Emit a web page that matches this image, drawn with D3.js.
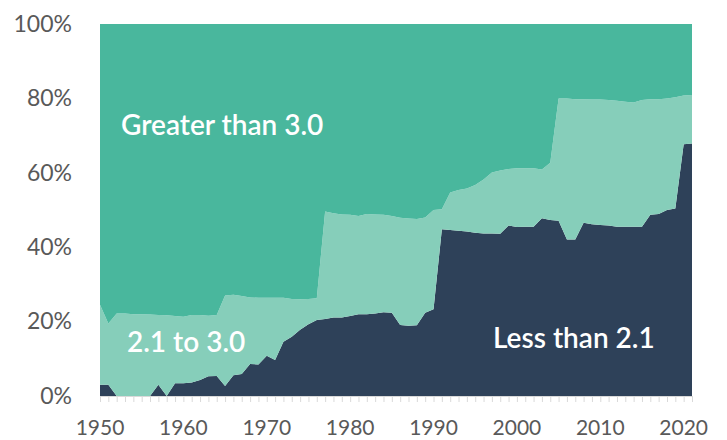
<!DOCTYPE html>
<html><head><meta charset="utf-8">
<script src="https://cdn.jsdelivr.net/npm/d3@7"></script>
<style>html,body{margin:0;padding:0;background:#fff;}svg{display:block;}</style>
</head><body>
<svg id="chart" width="727" height="440"></svg>
<script>
const years = d3.range(1950, 2022);
const lessThan21 = [3,3,0,0,0,0,0,3,0,3.4,3.4,3.6,4.3,5.3,5.4,2.7,5.6,5.9,8.6,8.5,10.8,9.7,14.6,15.9,17.8,19.3,20.4,20.7,21.1,21.1,21.5,22.0,22.0,22.2,22.5,22.4,19.1,18.9,19.0,22.4,23.3,44.8,44.6,44.4,44.2,43.9,43.7,43.7,43.6,45.8,45.4,45.5,45.5,47.8,47.3,47.1,42.1,42.1,46.6,46.2,46.0,45.8,45.5,45.5,45.5,45.5,48.7,48.9,50.0,50.4,67.7,67.9];
const from21to30 = [21.5,16.5,22.2,22.2,22.0,22.0,21.9,18.8,21.7,18.1,17.9,18.2,17.5,16.3,16.4,24.3,21.6,21.0,17.9,17.9,15.6,16.7,11.8,10.2,8.2,6.8,5.9,28.9,28.0,27.7,27.2,26.4,26.9,26.6,26.2,26.0,28.8,28.8,28.6,25.6,26.7,5.4,10.1,11.0,11.6,12.8,14.5,16.4,17.0,15.2,15.8,15.7,15.7,13.1,15.4,32.9,37.9,37.7,33.2,33.5,33.7,33.8,33.9,33.6,33.4,34.1,31.1,30.9,30.0,29.9,13.1,13.0];
const greaterThan30 = [75.5,80.5,77.8,77.8,78.0,78.0,78.1,78.2,78.3,78.5,78.7,78.2,78.2,78.4,78.2,73.0,72.8,73.1,73.5,73.6,73.6,73.6,73.6,73.9,74.0,73.9,73.7,50.4,50.9,51.2,51.3,51.6,51.1,51.2,51.3,51.6,52.1,52.3,52.4,52.0,50.0,49.8,45.3,44.6,44.2,43.3,41.8,39.9,39.4,39.0,38.8,38.8,38.8,39.1,37.3,20.0,20.0,20.2,20.2,20.3,20.3,20.4,20.6,20.9,21.1,20.4,20.2,20.2,20.0,19.7,19.2,19.1];
const seriesKeys = ["less", "mid", "greater"];
const seriesLabels = ["Less than 2.1", "2.1 to 3.0", "Greater than 3.0"];
const yTicks = [0, 20, 40, 60, 80, 100];
const xTickLabels = [1950, 1960, 1970, 1980, 1990, 2000, 2010, 2020];

const colors = {less: "#2E4159", mid: "#86CEBA", greater: "#49B79D"};
const rows = years.map((y, i) => ({year: y, less: lessThan21[i], mid: from21to30[i], greater: greaterThan30[i]}));

const svg = d3.select("#chart");
const m = {left: 100, right: 35, top: 24, bottom: 44};
const W = 727, H = 440;
const x = d3.scaleLinear().domain([1950, 2021]).range([m.left, W - m.right]);
const y = d3.scaleLinear().domain([0, 100]).range([H - m.bottom, m.top]);

const stacked = d3.stack().keys(seriesKeys)(rows);
const area = d3.area().x(d => x(d.data.year)).y0(d => y(d[0])).y1(d => y(d[1]));

svg.append("g").selectAll("path").data(stacked).join("path")
  .attr("d", area).attr("fill", d => colors[d.key]);

// x axis: minor year ticks, labels every 10
const xAxis = d3.axisBottom(x).tickValues(years).tickSize(6).tickFormat("");
const gx = svg.append("g").attr("transform", `translate(0,${y(0)})`).call(xAxis);
gx.select(".domain").attr("stroke", "#d9d9d9");
gx.selectAll(".tick line").attr("stroke", "#d9d9d9");

const font = "Lato, 'Open Sans', sans-serif";
svg.append("g").selectAll("text").data(xTickLabels).join("text")
  .attr("x", d => x(d)).attr("y", 435)
  .attr("text-anchor", "middle").attr("font-family", font).attr("font-size", 21)
  .attr("fill", "#595959").text(d => d);

const yAxis = d3.axisLeft(y).tickValues(yTicks).tickSize(0).tickPadding(28).tickFormat(d => d + "%");
const gy = svg.append("g").attr("transform", `translate(${m.left},0)`).call(yAxis);
gy.select(".domain").remove();
gy.selectAll("text").attr("font-family", font).attr("font-size", 23).attr("fill", "#595959");

// series labels
const labelPos = [
  {t: seriesLabels[0], x: 493, y: 348},
  {t: seriesLabels[1], x: 127, y: 352},
  {t: seriesLabels[2], x: 121, y: 135}
];
svg.append("g").selectAll("text").data(labelPos).join("text")
  .attr("x", d => d.x).attr("y", d => d.y)
  .attr("font-family", font).attr("font-size", 28).attr("font-weight", 600)
  .attr("fill", "#ffffff")
  .text(d => d.t);
</script>
</body></html>
